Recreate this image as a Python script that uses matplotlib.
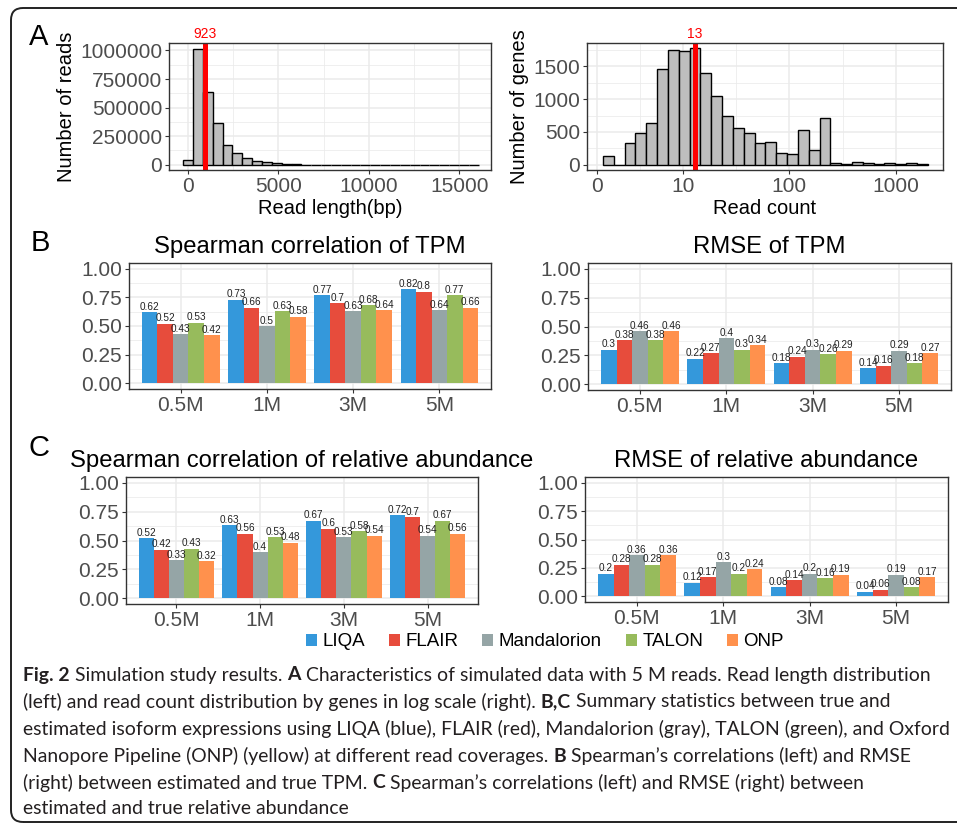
"""
Simulation study results: read length / read count histograms and
Spearman / RMSE bar charts for five isoform quantification tools.
"""

import matplotlib
matplotlib.use('Agg')
import numpy as np
import matplotlib.pyplot as plt
from matplotlib.patches import FancyBboxPatch, Patch

# ---- data -------------------------------------------------------------
# A, left: read length histogram (30 bins, first bin centred at 0)
read_len_counts = [43600, 1011600, 634000, 363000, 177000, 99000, 55000,
                   32000, 20000, 12000, 6000, 3500, 2000, 1200, 800, 500,
                   300, 200, 150, 100, 80, 60, 40, 30, 20, 15, 10, 8, 5, 3]
read_len_median = 923

# A, right: read count per gene histogram (log10 bins, first bin at count 2)
read_cnt_counts = [133, 0, 337, 490, 628, 1454, 1745, 1735, 1776, 1393,
                   1046, 740, 561, 490, 337, 352, 184, 168, 536, 224, 709,
                   25, 8, 35, 25, 10, 25, 15, 20, 10]
read_cnt_median = 13

coverages = ['0.5M', '1M', '3M', '5M']
tools = ['LIQA', 'FLAIR', 'Mandalorion', 'TALON', 'ONP']
tool_colors = ['#3498DB', '#E74C3C', '#95A5A6', '#97BB5C', '#FF914D']

# B: TPM
spear_tpm = {
    'LIQA':        [0.62, 0.73, 0.77, 0.82],
    'FLAIR':       [0.52, 0.66, 0.7, 0.8],
    'Mandalorion': [0.43, 0.5, 0.63, 0.64],
    'TALON':       [0.53, 0.63, 0.68, 0.77],
    'ONP':         [0.42, 0.58, 0.64, 0.66],
}
rmse_tpm = {
    'LIQA':        [0.3, 0.22, 0.18, 0.14],
    'FLAIR':       [0.38, 0.27, 0.24, 0.16],
    'Mandalorion': [0.46, 0.4, 0.3, 0.29],
    'TALON':       [0.38, 0.3, 0.26, 0.18],
    'ONP':         [0.46, 0.34, 0.29, 0.27],
}

# C: relative abundance
spear_rel = {
    'LIQA':        [0.52, 0.63, 0.67, 0.72],
    'FLAIR':       [0.42, 0.56, 0.6, 0.7],
    'Mandalorion': [0.33, 0.4, 0.53, 0.54],
    'TALON':       [0.43, 0.53, 0.58, 0.67],
    'ONP':         [0.32, 0.48, 0.54, 0.56],
}
rmse_rel = {
    'LIQA':        [0.2, 0.12, 0.08, 0.04],
    'FLAIR':       [0.28, 0.17, 0.14, 0.06],
    'Mandalorion': [0.36, 0.3, 0.2, 0.19],
    'TALON':       [0.28, 0.2, 0.16, 0.08],
    'ONP':         [0.36, 0.24, 0.19, 0.17],
}

caption_lines = [
    [('Fig. 2', True), (' Simulation study results. ', False), ('A', True),
     (' Characteristics of simulated data with 5 M reads. Read length distribution', False)],
    [('(left) and read count distribution by genes in log scale (right). ', False),
     ('B,C', True), (' Summary statistics between true and', False)],
    [('estimated isoform expressions using LIQA (blue), FLAIR (red), Mandalorion (gray), '
      'TALON (green), and Oxford', False)],
    [('Nanopore Pipeline (ONP) (yellow) at different read coverages. ', False), ('B', True),
     (' Spearman\u2019s correlations (left) and RMSE', False)],
    [('(right) between estimated and true TPM. ', False), ('C', True),
     (' Spearman\u2019s correlations (left) and RMSE (right) between', False)],
    [('estimated and true relative abundance', False)],
]

# ---- layout helpers -----------------------------------------------------
W, H = 957, 827
PLOT_FONT = ['Liberation Sans', 'DejaVu Sans']
CAP_FONT = ['Lato', 'DejaVu Sans']
TICK_COL = '#4D4D4D'
GRID_COL = '#EBEBEB'
TICK_SIZE = 15

plt.rcParams['font.family'] = PLOT_FONT


def px_rect(x0, y0, x1, y1):
    return [x0 / W, 1 - y1 / H, (x1 - x0) / W, (y1 - y0) / H]


def fx(x):
    return x / W


def fy(y):
    return 1 - y / H


def style_axes(ax):
    for s in ax.spines.values():
        s.set_color('#333333')
        s.set_linewidth(1.0)
    ax.tick_params(which='major', length=3, width=0.8, color='#333333',
                   labelsize=TICK_SIZE, labelcolor=TICK_COL, pad=2)
    ax.tick_params(which='minor', length=0)
    ax.grid(which='major', color=GRID_COL, linewidth=1.1)
    ax.grid(which='minor', color=GRID_COL, linewidth=0.55)
    ax.set_axisbelow(True)


def bar_panel(ax, data, title):
    x = np.arange(1, len(coverages) + 1)
    bw = 0.9 / len(tools)
    for i, tool in enumerate(tools):
        xs = x + (i - 2) * bw
        vals = data[tool]
        ax.bar(xs, vals, width=bw, color=tool_colors[i], linewidth=0)
        for xi, v in zip(xs, vals):
            ax.text(xi, v + 0.004, str(v), ha='center', va='bottom',
                    fontsize=7.2, color='#222222')
    ax.set_xlim(0.4, 4.6)
    ax.set_ylim(-0.05, 1.05)
    ax.set_xticks(x)
    ax.set_xticklabels(coverages)
    ax.set_yticks([0, 0.25, 0.5, 0.75, 1.0])
    ax.set_yticklabels(['0.00', '0.25', '0.50', '0.75', '1.00'])
    ax.set_yticks([0.125, 0.375, 0.625, 0.875], minor=True)
    style_axes(ax)
    ax.grid(which='minor', axis='x', visible=False)
    ax.set_title(title, fontsize=17.2, pad=7)


fig = plt.figure(figsize=(W / 100, H / 100), dpi=100)

# outer rounded frame (right side runs off the picture)
frame = FancyBboxPatch((0.11, 0.05), 10.0, 8.14,
                       boxstyle='round,pad=0,rounding_size=0.12',
                       transform=fig.dpi_scale_trans, facecolor='none',
                       edgecolor='#222222', linewidth=1.4)
fig.patches.append(frame)

# ---- A left: read length --------------------------------------------------
ax = fig.add_axes(px_rect(169, 43, 491, 170))
len_bw = 545
len_centers = np.arange(len(read_len_counts)) * len_bw
ax.bar(len_centers, read_len_counts, width=len_bw, color='#BEBEBE',
       edgecolor='black', linewidth=1.0)
ax.axvline(read_len_median, color='#FF0000', linewidth=3.6)
ax.text(read_len_median, 1.085e6, str(read_len_median), color='#FF0000',
        ha='center', va='bottom', fontsize=10)
ax.set_xlim(-1056, 16760)
ax.set_ylim(-0.046e6, 1.065e6)
ax.set_xticks([0, 5000, 10000, 15000])
ax.set_xticks([2500, 7500, 12500], minor=True)
ax.set_yticks([0, 250000, 500000, 750000, 1000000])
ax.set_yticklabels(['0', '250000', '500000', '750000', '1000000'])
ax.set_yticks([125000, 375000, 625000, 875000], minor=True)
style_axes(ax)
ax.set_xlabel('Read length(bp)', fontsize=14.5, labelpad=2)
ax.set_ylabel('Number of reads', fontsize=14.5, labelpad=3)

# ---- A right: read count ---------------------------------------------------
ax = fig.add_axes(px_rect(587, 43, 943, 170))
cnt_bw = 0.1017
cnt_centers = np.log10(2) + np.arange(len(read_cnt_counts)) * cnt_bw
ax.bar(cnt_centers, read_cnt_counts, width=cnt_bw, color='#BEBEBE',
       edgecolor='black', linewidth=1.0)
ax.axvline(np.log10(read_cnt_median), color='#FF0000', linewidth=3.6)
ax.text(np.log10(read_cnt_median), 1880, str(read_cnt_median),
        color='#FF0000', ha='center', va='bottom', fontsize=10)
ax.set_xlim(0.1, 3.444)
ax.set_ylim(-82, 1857)
ax.set_xticks([0.194, 1, 2, 3])
ax.set_xticklabels(['0', '10', '100', '1000'])
ax.set_xticks([0.597, 1.5, 2.5], minor=True)
ax.set_yticks([0, 500, 1000, 1500])
ax.set_yticks([250, 750, 1250, 1750], minor=True)
style_axes(ax)
ax.set_xlabel('Read count', fontsize=14.5, labelpad=2)
ax.set_ylabel('Number of genes', fontsize=14.5, labelpad=3)

# ---- B and C bar panels ----------------------------------------------------
bar_panel(fig.add_axes(px_rect(129, 263, 491, 389)), spear_tpm,
          'Spearman correlation of TPM')
bar_panel(fig.add_axes(px_rect(588, 263, 951, 390)), rmse_tpm,
          'RMSE of TPM')
bar_panel(fig.add_axes(px_rect(126, 477, 478, 604)), spear_rel,
          'Spearman correlation of relative abundance')
bar_panel(fig.add_axes(px_rect(585, 477, 948, 602)), rmse_rel,
          'RMSE of relative abundance')

# panel letters
for letter, (lx, ly) in zip('ABC', [(39, 37), (40, 243), (39, 448)]):
    fig.text(fx(lx), fy(ly), letter, fontsize=21, ha='center', va='center')

# legend
handles = [Patch(facecolor=c, edgecolor='none') for c in tool_colors]
fig.legend(handles, tools, loc='center', bbox_to_anchor=(fx(545), fy(642)),
           ncol=5, frameon=False, fontsize=13.5, handlelength=0.6,
           handleheight=0.6, handletextpad=0.3, columnspacing=1.25,
           borderpad=0, borderaxespad=0)

# ---- caption ------------------------------------------------------------
renderer = fig.canvas.get_renderer()


def text_width(s, bold, size):
    t = fig.text(0, 0, s + 'x', fontsize=size, family=CAP_FONT,
                 fontweight='bold' if bold else 'normal')
    tx = fig.text(0, 0, 'x', fontsize=size, family=CAP_FONT,
                  fontweight='bold' if bold else 'normal')
    w = t.get_window_extent(renderer).width - tx.get_window_extent(renderer).width
    t.remove()
    tx.remove()
    return w


cap_size = 13.95
cap_x0 = 23
cap_y = [675, 702, 729, 756, 783, 809]
for segs, yy in zip(caption_lines, cap_y):
    xx = cap_x0
    for s, bold in segs:
        fig.text(fx(xx), fy(yy), s, fontsize=cap_size, family=CAP_FONT,
                 fontweight='bold' if bold else 'normal', color='#231F20',
                 ha='left', va='center')
        xx += text_width(s, bold, cap_size)

fig.savefig('out.png', dpi=100)
